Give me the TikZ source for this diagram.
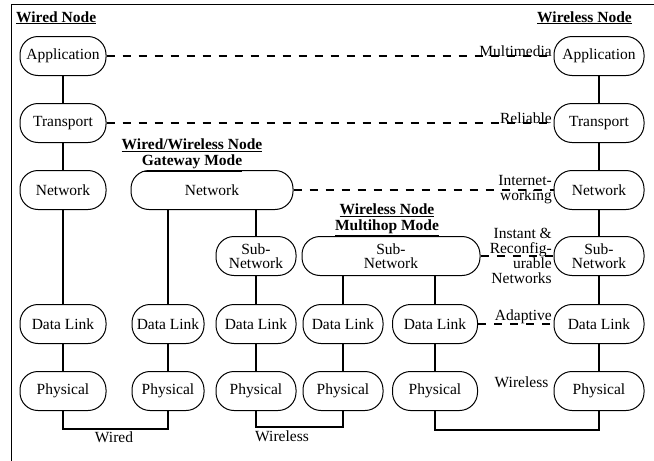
\documentclass[tikz,border=0pt]{standalone}
\usepackage{fontspec}
\setmainfont{Liberation Serif}
\begin{document}
\begin{tikzpicture}[x=1pt, y=-1pt, font=\fontsize{15.5}{15}\selectfont,
    layer/.style={draw, line width=1pt, rounded corners=18pt, minimum height=39pt,
        inner sep=1pt, align=center, font=\fontsize{15.5}{14}\selectfont},
    link/.style={line width=1.5pt},
    peer/.style={line width=1.5pt, dash pattern=on 8pt off 8pt},
    lbl/.style={align=right, inner sep=1pt},
    title/.style={align=center, inner sep=0pt, font=\fontsize{15.5}{16.5}\selectfont\bfseries}]
    \useasboundingbox (0,0) rectangle (654,461);
    \draw[line width=1pt] (654,4) -| (11,461);

    % titles
    \node[title, anchor=base west] (wiredtitle) at (16,22) {\underline{Wired Node}};
    \node[title, anchor=base east] (wlesstitle) at (632,22) {\underline{Wireless Node}};
    \node[title] (gwtitle) at (192,155) {\underline{Wired/Wireless Node}\\\underline{Gateway Mode}};
    \node[title] (mhtitle) at (387,220) {\underline{Wireless Node}\\\underline{Multihop Mode}};

    % wired node
    \node[layer, minimum width=86pt] (app1) at (63,56) {Application};
    \node[layer, minimum width=86pt] (tra1) at (63,123) {Transport};
    \node[layer, minimum width=86pt] (net1) at (63,190) {Network};
    \node[layer, minimum width=86pt] (dl1) at (63,324) {Data Link};
    \node[layer, minimum width=86pt] (phy1) at (63,391) {Physical};

    % gateway
    \node[layer, minimum width=162pt] (gwnet) at (212,190) {Network};
    \node[layer, minimum width=72pt] (dl2) at (168,324) {Data Link};
    \node[layer, minimum width=72pt] (phy2) at (168,391) {Physical};
    \node[layer, minimum width=80pt] (sub3) at (256,256) {Sub-\\Network};
    \node[layer, minimum width=80pt] (dl3) at (256,324) {Data Link};
    \node[layer, minimum width=80pt] (phy3) at (256,391) {Physical};

    % multihop
    \node[layer, minimum width=178pt] (mhsub) at (391,256) {Sub-\\Network};
    \node[layer, minimum width=80pt] (dl4) at (343,324) {Data Link};
    \node[layer, minimum width=80pt] (phy4) at (343,391) {Physical};
    \node[layer, minimum width=85pt] (dl5) at (435,324) {Data Link};
    \node[layer, minimum width=85pt] (phy5) at (435,391) {Physical};

    % wireless node
    \node[layer, minimum width=90pt] (app6) at (599,56) {Application};
    \node[layer, minimum width=90pt] (tra6) at (599,123) {Transport};
    \node[layer, minimum width=90pt] (net6) at (599,190) {Network};
    \node[layer, minimum width=90pt] (sub6) at (599,256) {Sub-\\Network};
    \node[layer, minimum width=90pt] (dl6) at (599,324) {Data Link};
    \node[layer, minimum width=90pt] (phy6) at (599,391) {Physical};

    \draw[link] (app1) -- (tra1) (tra1) -- (net1) (net1) -- (dl1) (dl1) -- (phy1);
    \draw[link] (gwnet.south -| dl2) -- (dl2) (dl2) -- (phy2);
    \draw[link] (gwnet.south -| sub3) -- (sub3) (sub3) -- (dl3) (dl3) -- (phy3);
    \draw[link] (mhsub.south -| dl4) -- (dl4) (dl4) -- (phy4);
    \draw[link] (mhsub.south -| dl5) -- (dl5) (dl5) -- (phy5);
    \draw[link] (app6) -- (tra6) (tra6) -- (net6) (net6) -- (sub6) (sub6) -- (dl6) (dl6) -- (phy6);

    \draw[link] (phy1.south) -- ++(0,18) -| (phy2.south);
    \draw[link] (phy3.south) -- ++(0,16) -| (phy4.south);
    \draw[link] (phy5.south) -- ++(0,19) -| (phy6.south);
    \node (wiredlbl) at (114,437) {Wired};
    \node (wlesslbl) at (282,436) {Wireless};

    \draw[peer] (app1) -- (app6) node[pos=1, lbl, anchor=base east] {Multimedia};
    \draw[peer] (tra1) -- (tra6) node[pos=1, lbl, anchor=base east] {Reliable};
    \draw[peer] (gwnet) -- (net6) node[pos=1, lbl, anchor=east] {Internet-\\working};
    \draw[peer] (mhsub) -- (sub6) node[pos=1, lbl, anchor=east] {Instant \&\\Reconfig-\\urable\\Networks};
    \draw[peer] (dl5) -- (dl6) node[pos=1, lbl, anchor=base east, yshift=4pt] {Adaptive};
    \node[lbl, anchor=base east] (airlbl) at ([xshift=-4pt, yshift=4pt]phy6.west) {Wireless};
\end{tikzpicture}
\end{document}
